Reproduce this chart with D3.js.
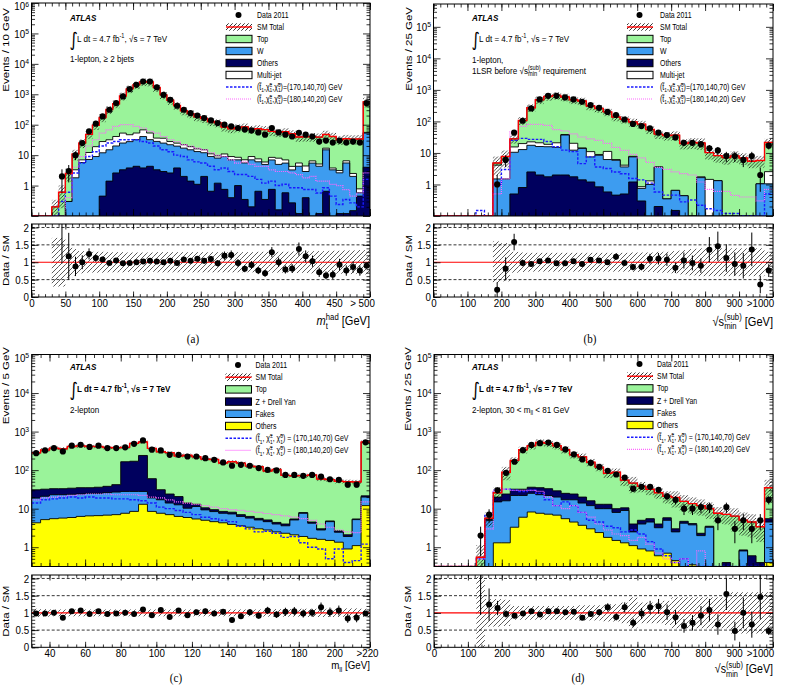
<!DOCTYPE html>
<html>
<head>
<meta charset="utf-8">
<script src="https://cdn.jsdelivr.net/npm/d3@7"></script>
<style>
  body { margin: 0; background: #fff; }
  svg { font-family: "Liberation Sans", Arial, Helvetica, sans-serif; }
</style>
</head>
<body>
<svg id="fig" width="785" height="685"></svg>
<script>
// ---------- (a) 1-lepton, >= 2 bjets : m_t^had, 10 GeV bins from 0 ----------
const aStart = 0, aWidth = 10;
const aOthers = [0,0,0,0,0,0,0,0,0,0, 0.45,1.4,2.6,3.3,3.8,4.3,3.8,4.3,3.3,2.9, 2.6,3.8,2,1.4,1.1,2,0.65,1.2,0.75,0.4,
  1,0.35,0.2,0.65,0.35,0.75,0.16,0.58,0.27,0.12, 0.4,0.08,0.12,0.65,0.08,0.12,0.12,0.15,0.45,4];
const aW = [0,0,0,0,0.05,0.3,1.8,5.7,7.2,9, 11.5,13.6,17.4,21.7,24,28,37,28,25,22, 19.4,16,15,13.6,12,10,8.4,6.8,8.2,6.6,
  6,5.2,6.8,5.4,4.6,6.2,4.8,4.9,3,4.2, 2.5,5.4,4.2,14.3,3.2,2.5,5.4,1.85,0.13,49];
const aMJ = [0,0,0,0,0,0,1.5,1.3,5,10, 16,17,21,28,19,21,27,21,8,11, 6,5,5,4,3,3,2,1.5,2,2,
  1.5,1.5,2,1.5,1,1.5,3,1.5,1,1.2, 1.5,1,0.8,2,0.5,0.5,1,0.5,0.2,3];
const aTop = [0,0,0,0.2,0.55,2.2,7.6,18,36,77, 145,284,449,823,1463,1997,2512,2477,1634,924, 607,405,265,212,166,145,116,106,73,65,
  71,78,62,66,63,52,48,52,46,34, 36,34,34,31,37,29,28,31,33,514];
const aData = [0,0,0,0,2,3,10,25,60,108, 187,310,515,850,1480,2050,2630,2630,1700,960, 660,420,310,240,200,166,138,113,100,89,
  78,69,65,56,47,78,56,47,41,54, 47,41,28,30,26,30,26,28,26,512];
const aRatio = [0,0,0,0,3.3,1.17,0.88,1.0,1.24,1.12, 1.08,0.98,1.05,0.97,0.98,1.0,1.02,1.04,1.02,1.0, 1.04,0.98,1.08,1.04,1.1,1.04,1.09,0.97,1.19,1.21,
  0.98,0.81,0.92,0.76,0.68,1.29,1.0,0.79,0.82,1.38, 1.17,1.03,0.71,0.62,0.64,0.93,0.76,0.86,0.76,0.9];
const aUnc = [0,0,0,0.7,0.7,0.45,0.38,0.32,0.3,0.3, 0.3,0.29,0.29,0.29,0.28,0.28,0.28,0.28,0.29,0.29, 0.29,0.29,0.29,0.29,0.29,0.29,0.29,0.29,0.29,0.29,
  0.29,0.29,0.29,0.3,0.3,0.3,0.3,0.3,0.31,0.31, 0.31,0.32,0.32,0.32,0.33,0.33,0.34,0.34,0.35,0.35];
const aSig1 = [0,0,0,0,0.3,0.6,2.6,5.5,9,13, 20,25,28,32,32,32,28,25,20,15, 13,10,9,7,6,5.5,4.3,3.3,3.8,2.9,
  2.3,2.3,2,1.6,1.2,1.4,1,1.1,0.85,0.85, 0.74,0.74,0.57,0.85,0.45,0.24,0.35,0.27,0.2,1.6];
const aSig2 = [0,0,0,0,0,0.4,4,9,20,32, 53,68,88,100,100,88,78,60,53,41, 32,28,22,20,17,15,12,10,9,7,
  5.5,6,5,4.3,4.3,3.3,2.9,2.9,2.6,2.3, 1.8,2,1.4,1.4,1.1,1,0.74,0.45,0.57,2.6];
const aXTicks = [0,50,100,150,200,250,300,350,400,450,500];
const aXLabels = ['0','50','100','150','200','250','300','350','400','450','> 500'];

// ---------- (b) 1-lepton 1LSR : sqrt(s_min^sub), 25 GeV bins from 0 ----------
const bStart = 0, bWidth = 25;
const bOthers = [0,0,0,0,0,0,0,0,0,0.5, 0.8,2.5,2,1.75,2,2,1.75,1.4,1.2,0.84, 0.58,0.46,0.5,1.2,0.3,0.05,0.2,0.05,0.15,0.04,
  0.02,0.05,0.02,0.02,0.05,0.05,0.02,0.03,0.05,0.05];
const bW = [0,0,0,0,0,0,0,1.5,1.5,10, 12,15,14,14,13,35,10.5,12.5,6.3,7.6, 5.6,5.4,3.1,6.3,0.45,0.95,3.4,0.3,0.5,0.4,
  0.03,1.6,0.03,1.3,0.03,0,0,0.05,1.0,1.0];
const bMJ = [0,0,0,0,0,0,0,2.6,4.5,5, 7,5,5,3,6,1.5,8,0.5,3.5,0.5, 5,0.3,0.5,0.3,0.1,0.3,0,0,0,0,
  0,0.1,1.4,0,0,0,0,0,0,1.5];
const bTop = [0,0,0,0,0,0,0,0.7,1.7,12.5, 87,250,464,600,649,555,465,428,297,248, 189,132,113,88,81,54,36,35,36,19.5,
  21.3,19,8.8,6.9,7,8,6.9,5.4,4.7,19];
const bData = [0,0,0,0,0,0,0,1,6,44, 105,258,500,650,650,575,500,420,330,270, 200,160,115,83,71,60,44,37,31,21,
  21,19,14,12,8,8,6,8,2,17];
const bRatio = [0,0,0,0,0,0,0,0.21,0.81,1.58, 0.98,0.95,1.03,1.05,0.97,0.97,1.03,0.95,1.07,1.05, 1.0,1.16,0.98,0.86,0.87,1.1,1.1,1.07,0.84,1.05,
  0.98,0.9,1.36,1.46,1.12,0.95,0.9,1.37,0.36,0.76];
const bUnc = [0,0,0,0,0,0,0,0.6,0.55,0.3, 0.28,0.27,0.27,0.27,0.27,0.27,0.27,0.27,0.27,0.27, 0.27,0.27,0.27,0.28,0.28,0.28,0.3,0.3,0.32,0.35,
  0.38,0.4,0.4,0.4,0.4,0.4,0.4,0.4,0.4,0.3];
const bSig1 = [0,0,0,0,0,0.15,0,1,3,25, 29,27,27,23,15.7,12.3,11,4.6,7.5,3.6, 3.2,2.5,2.2,1.55,1.4,1.1,0.58,0.46,0.46,0.28,
  0.32,0.22,0.17,0.15,0.12,0.12,0.09,0.08,0.05,0.5];
const bSig2 = [0,0,0,0,0,0,0,0.5,1.5,47, 70,80,80,75,55,50,40,32,28,25, 20,15,12,9,7,5,3.5,3,2.5,2.2,
  2,1.2,0.7,0.6,0.6,0.45,0.4,0.4,0.3,0.7];
const bXTicks = [0,100,200,300,400,500,600,700,800,900,1000];
const bXLabels = ['0','100','200','300','400','500','600','700','800','900','>1000'];

// ---------- (c) 2-lepton : m_ll, 5 GeV bins from 30 ----------
const cStart = 30, cWidth = 5;
const cOthers = [4.3,5.2,5.5,5.7,5.9,6.3,6.5,6.6,6.8,7.0, 7.6,8.5,13,8.5,7.6,7.0,6.3,5.9,5.4,5.0,
  4.6,4.3,3.9,3.6,3.3,3.0,2.8,2.5,2.3,2.1, 1.9,1.7,1.6,1.5,1.35,0.9,1.1,12];
const cFakes = [14.5,15.8,17.5,17.3,17.6,17.7,18.5,18.4,19.2,20, 20.4,19.5,15,10.5,9.4,7,6.3,4.4,6,4.3,
  3.8,3.3,3.4,2.7,2.4,2.1,1.8,1.5,1.3,3.0, 5.7,2.5,1.2,3.1,1.1,1.0,4.1,8];
const cZ = [12,11,10,10,10.5,11,10,11,12,15, 137,142,212,41,14,10,8,3.7,1.6,1.2,
  1.0,0.9,0.8,0.7,0.6,0.5,0.5,0.4,0.4,0.3, 0.3,0.3,0.2,0.2,0.2,0.2,0.2,1.5];
const cTop = [251,300,340,322,376,391,377,374,347,339, 225,325,296,306,270,260,213,229,209,183,
  180,145,157,145,121,117,90,99,69,66, 64,70,56,52,49,48,44,514];
const cData = [276,325,373,305,430,456,400,430,373,373, 390,480,590,340,325,250,250,226,226,204,
  185,158,130,137,130,113,102,98,75,75, 71,75,68,58,56,42,42,525];
const cRatio = [0.98,0.98,1.0,0.86,1.05,1.07,0.97,1.05,0.97,0.98, 1.0,0.97,1.1,0.93,1.08,0.88,1.07,0.93,1.02,1.05,
  0.98,1.03,0.79,0.9,1.02,0.92,1.07,0.95,1.03,1.05, 0.98,1.0,1.16,1.02,1.07,0.84,0.86,0.98];
const cUnc = [0.12,0.11,0.1,0.1,0.1,0.1,0.1,0.1,0.1,0.1, 0.1,0.1,0.1,0.1,0.1,0.1,0.1,0.1,0.1,0.1,
  0.1,0.1,0.1,0.1,0.1,0.1,0.11,0.11,0.11,0.11, 0.12,0.12,0.12,0.12,0.12,0.13,0.13,0.12];
const cSig1 = [14,17,18,19,20,19,20,19,19,18, 18,17,16,14,11,10,9,8,7,6,
  5.5,5,4.6,3.5,3,2.5,2.6,2.3,1.8,1.9, 1.3,1.0,0.9,0.5,0.9,0.4,0.45,1.2];
const cSig2 = [17,19,20,21,22,23,24,24,24,23, 23,23,22,20,19,17,15,14,13,12,
  11,10,9.5,9,8.5,8,7.5,7,6.5,6, 5.5,5,4,3.3,2.8,2.5,2.4,15];
const cXTicks = [40,60,80,100,120,140,160,180,200,220];
const cXLabels = ['40','60','80','100','120','140','160','180','200','>220'];

// ---------- (d) 2-lepton, 30 < m_ll < 81 GeV : sqrt(s_min^sub), 25 GeV bins ----------
const dStart = 0, dWidth = 25;
const dOthers = [0,0,0,0,0,0,0,1.3,1.3,3.3, 6,8.2,7.6,7.2,6.8,5.5,4.5,3.7,3.0,2.4,
  1.8,1.5,1.3,1.1,0.9,0.8,0.6,0.7,0.45,0.3, 0.35,0.25,0.2,0.1,0.1,0.05,0,0,0,0.4];
const dFakes = [0,0,0,0,0,0,5,13.7,14.7,18.7, 16,16.8,15.4,14.8,13.2,11.5,12.5,10.3,9,7.6,
  8.2,6.5,7.7,1.4,3.1,3.7,2.6,4.3,2.05,3.9, 3.45,1.75,3.1,0.1,0.2,0.05,0.8,0.3,0.3,4.1];
const dZ = [0,0,0,0,0,0,0.3,5,8,10, 10,11,12,11,9,8,7,6,4,3,
  3,2,1.5,1.5,1,1,0.8,0.8,0.5,0.5, 0.3,0.3,0.2,0.1,0.1,0.1,0.05,0.3,0.1,1];
const dTop = [0,0,0,0,0,0.55,0.4,6,64,147, 305,393,491,462,400,313,226,201,144,107,
  70,78,44.5,42,33,26.5,22,15.2,16.5,10.8, 9.4,9.7,6.5,7.3,6.7,6.2,4.15,3.9,3.0,29.5];
const dData = [0,0,0,0,0,2,7,30,85,165, 330,450,500,520,450,345,257,190,155,122,
  96,77,64,33,37,37,31,21,17,10, 10,11,11,5,11,3,5,3,5,17];
const dRatio = [0,0,0,0,0,3.2,1.24,1.14,0.97,0.92, 0.98,1.05,0.95,1.05,1.05,1.02,1.03,0.86,0.97,1.02,
  1.16,0.88,1.16,0.71,0.98,1.16,1.19,1.02,0.87,0.62, 0.71,0.92,1.08,0.66,1.55,0.47,1.0,0.66,1.46,0.47];
const dUnc = [0,0,0,0,0,1.05,0.4,0.4,0.38,0.2, 0.2,0.2,0.2,0.2,0.2,0.2,0.2,0.22,0.22,0.22,
  0.25,0.25,0.3,0.45,0.3,0.3,0.3,0.35,0.45,0.45, 0.45,0.45,0.45,0.45,0.45,0.6,0.6,0.6,0.6,0.6];
const dSig1 = [0,0,0,0,0,0.5,7,30,32,30, 28,30,25,17,12,15,12,8,5,4.5,
  3.5,3.2,2.5,2.8,2.2,1.4,0.9,0.6,0.4,0.5, 0.3,0.25,0.2,0.2,0.15,0.1,0.1,0.1,0.1,0.3];
const dSig2 = [0,0,0,0,0,0.5,3,30,32,30, 30,30,28,20,12,10,12,8,6,4,
  2.8,2.2,2,1.5,1.8,1.2,0.7,0.5,0.4,0.5, 0.3,0.8,0.3,0.3,0.3,0.2,0.2,0.1,0.1,0.3];

const ratioTicks = [0, 0.5, 1, 1.5, 2];
const ratioLabels = ['0', '0.5', '1', '1.5', '2'];
const sigMasses = ['(170,140,70)', '(180,140,20)'];

// ---------- drawing ----------
const SX = 0.85;
const TICK_FS = 11.5;
const C = { top: '#9af39a', w: '#3d9cf0', navy: '#00005e', yellow: '#ffff00', white: '#ffffff',
  sig1: '#1a1aff', sig2: '#ff66ff', red: '#ff0000' };

const svg = d3.select('#fig');
svg.append('rect').attr('width', 785).attr('height', 685).attr('fill', '#fff');
const defs = svg.append('defs');

function hatch(id, s, w, col) {
  defs.append('pattern').attr('id', id).attr('patternUnits', 'userSpaceOnUse')
    .attr('width', s).attr('height', s)
    .append('path')
    .attr('d', `M0,${s}L${s},0M${-s / 2},${s / 2}L${s / 2},${-s / 2}M${s / 2},${s * 1.5}L${s * 1.5},${s / 2}`)
    .attr('stroke', col).attr('stroke-width', w);
}
hatch('hatchMain', 3.5, 0.7, '#000');
hatch('hatchRatio', 5, 0.8, '#333');
hatch('hatchLeg', 4, 0.8, '#000');

const sub = (t, dx) => ({ t, s: 0.7, off: 0.3, dx });
const sup = (t, dx) => ({ t, s: 0.7, off: -0.42, dx });

// text made of tspans, slightly condensed like the original
function rich(g, x, y, size, parts, opt = {}) {
  const tr = opt.rot ? ` rotate(-90) scale(1,${SX})` : ` scale(${SX},1)`;
  const t = g.append('text')
    .attr('transform', `translate(${x},${y})${tr}`)
    .attr('font-size', size)
    .attr('text-anchor', opt.anchor || 'start');
  if (opt.weight) t.attr('font-weight', opt.weight);
  if (opt.style) t.attr('font-style', opt.style);
  if (opt.family) t.attr('font-family', opt.family);
  let cur = 0;
  parts.forEach(p => {
    if (typeof p === 'string') p = { t: p };
    const off = (p.off || 0) * size;
    const ts = t.append('tspan').attr('dy', off - cur).text(p.t);
    if (p.s) ts.attr('font-size', size * p.s);
    if (p.it) ts.attr('font-style', 'italic');
    if (p.dx) ts.attr('dx', p.dx * size);
    cur = off;
  });
  return t;
}

function sigLabel(m, spaced) {
  const c = spaced ? ', ' : ',';
  return ['(', 't\u0303', sub('1'), c, '\u03c7\u0303', sub('1'), sup('\u00b1', -0.39), c,
    '\u03c7\u0303', sub('1'), sup('0', -0.39), spaced ? ') = ' + m + ' GeV' : ')=' + m + ' GeV'];
}
const sqrtS = ['\u221as', sub('min'), sup('(sub)', -1.13)];

function tickAxis(g, scale, orient, pos, vals, size, labels) {
  const mk = { bottom: d3.axisBottom, top: d3.axisTop, left: d3.axisLeft, right: d3.axisRight }[orient];
  const ax = mk(scale).tickValues(vals).tickSize(-size).tickPadding(orient === 'left' ? 3 : 2)
    .tickFormat(labels ? (d, i) => labels[i] : '');
  const horiz = orient === 'bottom' || orient === 'top';
  const a = g.append('g').attr('transform', horiz ? `translate(0,${pos})` : `translate(${pos},0)`).call(ax);
  a.select('.domain').remove();
  a.attr('font-family', null).attr('font-size', TICK_FS);
  a.selectAll('line').attr('stroke-width', 0.8);
  a.selectAll('text').attr('transform', `scale(${SX},1)`);
  return a;
}

function drawPanel(p) {
  const g = svg.append('g');
  const B = p.box;
  const n = p.data.length;
  const x = d3.scaleLinear().domain(p.xDomain).range([B.l, B.r]);
  const y = d3.scaleLog().domain(p.yDomain).range([B.b, B.t]).clamp(true);
  const yr = d3.scaleLinear().domain([0, 2.1]).range([B.rb, B.rt]);
  const Y = v => y(v > 0 ? v : p.yDomain[0] / 10);
  const lo = i => x(p.start + i * p.width);
  const hi = i => x(p.start + (i + 1) * p.width);
  const mid = i => x(p.start + (i + 0.5) * p.width);

  defs.append('clipPath').attr('id', 'cm' + p.id).append('rect')
    .attr('x', B.l).attr('y', B.t).attr('width', B.r - B.l).attr('height', B.b - B.t);
  defs.append('clipPath').attr('id', 'cr' + p.id).append('rect')
    .attr('x', B.l).attr('y', B.rt).attr('width', B.r - B.l).attr('height', B.rb - B.rt);

  // cumulative stack
  let run = new Array(n).fill(0);
  const layers = p.stack.map(s => {
    run = run.map((c, i) => c + s.values[i]);
    return { color: s.color, cum: run.slice() };
  });
  const total = run;

  const step = (vals, closed) => {
    let d = '';
    vals.forEach((v, i) => { d += (i ? 'L' : 'M') + lo(i) + ',' + Y(v) + 'L' + hi(i) + ',' + Y(v); });
    if (closed) d += `L${hi(n - 1)},${B.b + 2}L${lo(0)},${B.b + 2}Z`;
    return d;
  };

  const main = g.append('g').attr('clip-path', `url(#cm${p.id})`);
  layers.slice().reverse().forEach(L => {
    main.append('path').attr('d', step(L.cum, true))
      .attr('fill', L.color).attr('stroke', '#000').attr('stroke-width', 0.9);
  });

  const filled = total.map((t, i) => ({ t, i })).filter(d => d.t > 0);
  main.append('g').selectAll('rect').data(filled).join('rect')
    .attr('x', d => lo(d.i)).attr('width', d => hi(d.i) - lo(d.i))
    .attr('y', d => Y(d.t * (1 + p.unc[d.i])))
    .attr('height', d => Y(d.t * (1 - p.unc[d.i])) - Y(d.t * (1 + p.unc[d.i])))
    .attr('fill', 'url(#hatchMain)');

  p.signals.forEach(s => {
    main.append('path').attr('d', step(s.values)).attr('fill', 'none')
      .attr('stroke', s.color).attr('stroke-width', s.w).attr('stroke-dasharray', s.dash);
  });

  main.append('path').attr('d', step(total)).attr('fill', 'none')
    .attr('stroke', C.red).attr('stroke-width', 1.4);

  const pts = p.data.map((v, i) => ({ v, i, r: p.ratio[i] })).filter(d => d.v > 0);
  main.append('g').selectAll('line').data(pts).join('line')
    .attr('x1', d => mid(d.i)).attr('x2', d => mid(d.i))
    .attr('y1', d => Y(d.v + Math.sqrt(d.v))).attr('y2', d => Y(d.v - Math.sqrt(d.v)))
    .attr('stroke', '#000').attr('stroke-width', 1);
  main.append('g').selectAll('circle').data(pts).join('circle')
    .attr('cx', d => mid(d.i)).attr('cy', d => Y(d.v)).attr('r', 3.1);

  // ratio pad
  const rat = g.append('g').attr('clip-path', `url(#cr${p.id})`);
  rat.append('g').selectAll('rect').data(filled).join('rect')
    .attr('x', d => lo(d.i)).attr('width', d => hi(d.i) - lo(d.i))
    .attr('y', d => yr(1 + p.unc[d.i]))
    .attr('height', d => yr(Math.max(0, 1 - p.unc[d.i])) - yr(1 + p.unc[d.i]))
    .attr('fill', 'url(#hatchRatio)');
  [0.5, 1.5, 2].forEach(v => rat.append('line')
    .attr('x1', B.l).attr('x2', B.r).attr('y1', yr(v)).attr('y2', yr(v))
    .attr('stroke', '#000').attr('stroke-width', 0.8).attr('stroke-dasharray', '3,2'));
  rat.append('line').attr('x1', B.l).attr('x2', B.r).attr('y1', yr(1)).attr('y2', yr(1))
    .attr('stroke', C.red).attr('stroke-width', 1.1);
  rat.append('g').selectAll('line').data(pts).join('line')
    .attr('x1', d => mid(d.i)).attr('x2', d => mid(d.i))
    .attr('y1', d => yr(d.r * (1 + 1 / Math.sqrt(d.v)))).attr('y2', d => yr(d.r * (1 - 1 / Math.sqrt(d.v))))
    .attr('stroke', '#000').attr('stroke-width', 1);
  rat.append('g').selectAll('circle').data(pts).join('circle')
    .attr('cx', d => mid(d.i)).attr('cy', d => yr(d.r)).attr('r', 3);

  // frames
  g.append('rect').attr('x', B.l).attr('y', B.t).attr('width', B.r - B.l).attr('height', B.b - B.t)
    .attr('fill', 'none').attr('stroke', '#000').attr('stroke-width', 1);
  g.append('rect').attr('x', B.l).attr('y', B.rt).attr('width', B.r - B.l).attr('height', B.rb - B.rt)
    .attr('fill', 'none').attr('stroke', '#000').attr('stroke-width', 1);

  // ticks
  const xMin = d3.range(p.xDomain[0], p.xDomain[1] + 1e-6, p.xMinor);
  ['top', 'bottom'].forEach(o => {
    tickAxis(g, x, o, o === 'top' ? B.t : B.b, p.xTicks, 7);
    tickAxis(g, x, o, o === 'top' ? B.t : B.b, xMin, 3.5);
    tickAxis(g, x, o, o === 'top' ? B.rt : B.rb, xMin, 2.8);
  });
  tickAxis(g, x, 'top', B.rt, p.xTicks, 5.5);
  const xl = tickAxis(g, x, 'bottom', B.rb, p.xTicks, 5.5, p.xLabels);
  // nudge the last labels as in the original (overflow label sits against the frame)
  xl.selectAll('text').each(function (d, i) {
    const dx = p.labelDx[i];
    if (dx) d3.select(this).attr('x', dx / SX);
  });

  const e0 = Math.floor(Math.log10(p.yDomain[0])), e1 = Math.ceil(Math.log10(p.yDomain[1]));
  const yMaj = d3.range(e0, e1 + 1).map(e => Math.pow(10, e))
    .filter(v => v >= p.yDomain[0] * 0.999 && v <= p.yDomain[1] * 1.001);
  const yMin = [];
  d3.range(e0, e1 + 1).forEach(e => d3.range(2, 10).forEach(m => {
    const v = m * Math.pow(10, e);
    if (v > p.yDomain[0] && v < p.yDomain[1]) yMin.push(v);
  }));
  const ylab = yMaj.filter(v => v >= 1);
  tickAxis(g, y, 'left', B.l, yMaj.filter(v => v < 1), 7);
  const yl = tickAxis(g, y, 'left', B.l, ylab, 7, ylab.map(String));
  yl.selectAll('text').each(function (d) {
    const t = d3.select(this).text('');
    const e = Math.round(Math.log10(d));
    if (y(d) - B.t < 2) t.attr('y', 3);   // keep the top label inside the page
    if (e === 0) t.text('1');
    else if (e === 1) t.text('10');
    else {
      t.append('tspan').text('10');
      t.append('tspan').attr('dy', '-0.45em').attr('font-size', '70%').text(e);
    }
  });
  tickAxis(g, y, 'left', B.l, yMin, 3.5);
  tickAxis(g, y, 'right', B.r, yMaj, 7);
  tickAxis(g, y, 'right', B.r, yMin, 3.5);

  const rMin = d3.range(0, 2.1, 0.1);
  tickAxis(g, yr, 'left', B.l, ratioTicks, 7, ratioLabels);
  tickAxis(g, yr, 'left', B.l, rMin, 3.5);
  tickAxis(g, yr, 'right', B.r, ratioTicks, 7);
  tickAxis(g, yr, 'right', B.r, rMin, 3.5);

  // titles
  rich(g, p.yTitle.x, p.yTitle.end, 11.5, [p.yTitle.text], { rot: true, anchor: 'end' });
  rich(g, p.yTitle.x, (B.rt + B.rb) / 2, 11.5, ['Data / SM'], { rot: true, anchor: 'middle' });
  rich(g, B.r, p.xTitle.y, p.xTitle.size, p.xTitle.parts, { anchor: 'end' });
  rich(g, p.caption.x, p.caption.y, 13, [p.caption.text],
    { anchor: 'middle', family: '"Liberation Serif", "DejaVu Serif", serif' });

  // annotations
  const A = p.notes;
  rich(g, A.x, A.y[0], 9.5, ['ATLAS'], { weight: 'bold', style: 'italic' });
  rich(g, A.x - 0.5, A.y[1] + 4, 19, ['\u222b'], { family: '"DejaVu Sans", sans-serif' });
  rich(g, A.x + 7, A.y[1], 9.5, ['L dt = 4.7 fb', sup('-1'), ', \u221as = 7 TeV'], { weight: A.bold ? 'bold' : null });
  A.lines.forEach((parts, k) => rich(g, A.x, A.y[2] + k * 10.5, 9.5, parts));

  // legend
  const L = p.legend;
  L.entries.forEach((e, k) => {
    const cy = L.y + k * L.dy;
    if (e.kind === 'data') {
      g.append('circle').attr('cx', L.x + 12.5).attr('cy', cy).attr('r', 3);
    } else if (e.kind === 'sm') {
      g.append('rect').attr('x', L.x).attr('y', cy - 3.7).attr('width', 26).attr('height', 7.4)
        .attr('fill', 'url(#hatchLeg)');
      g.append('line').attr('x1', L.x).attr('x2', L.x + 26).attr('y1', cy).attr('y2', cy)
        .attr('stroke', C.red).attr('stroke-width', 1.4);
    } else if (e.kind === 'box') {
      g.append('rect').attr('x', L.x).attr('y', cy - 3.7).attr('width', 26).attr('height', 7.4)
        .attr('fill', e.color).attr('stroke', '#000').attr('stroke-width', 1);
    } else {
      g.append('line').attr('x1', L.x).attr('x2', L.x + 26).attr('y1', cy).attr('y2', cy)
        .attr('stroke', e.color).attr('stroke-width', e.w).attr('stroke-dasharray', e.dash);
    }
    rich(g, L.tx, cy + 3, 8.2, e.label);
  });
}

const sig1 = v => ({ values: v, color: C.sig1, w: 1.4, dash: '2.5,1.5' });
const sig2 = v => ({ values: v, color: C.sig2, w: 1.2, dash: '1,1' });

const oneLepLegend = (x, tx, y) => ({ x, tx, y, dy: 12, entries: [
  { kind: 'data', label: ['Data 2011'] },
  { kind: 'sm', label: ['SM Total'] },
  { kind: 'box', color: C.top, label: ['Top'] },
  { kind: 'box', color: C.w, label: ['W'] },
  { kind: 'box', color: C.navy, label: ['Others'] },
  { kind: 'box', color: C.white, label: ['Multi-jet'] },
  { kind: 'line', color: C.sig1, w: 1.4, dash: '2.5,1.5', label: sigLabel(sigMasses[0], false) },
  { kind: 'line', color: C.sig2, w: 1.2, dash: '1,1', label: sigLabel(sigMasses[1], false) }
] });
const twoLepLegend = (x, tx, y) => ({ x, tx, y, dy: 12.2, entries: [
  { kind: 'data', label: ['Data 2011'] },
  { kind: 'sm', label: ['SM Total'] },
  { kind: 'box', color: C.top, label: ['Top'] },
  { kind: 'box', color: C.navy, label: ['Z + Drell Yan'] },
  { kind: 'box', color: C.w, label: ['Fakes'] },
  { kind: 'box', color: C.yellow, label: ['Others'] },
  { kind: 'line', color: C.sig1, w: 1.4, dash: '2.5,1.5', label: sigLabel(sigMasses[0], true) },
  { kind: 'line', color: C.sig2, w: 1.2, dash: '1,1', label: sigLabel(sigMasses[1], true) }
] });

drawPanel({
  id: 'a', box: { l: 31.5, r: 370, t: 3, b: 216, rt: 224, rb: 297 },
  xDomain: [0, 500], yDomain: [0.1, 1e6], start: aStart, width: aWidth,
  stack: [{ values: aOthers, color: C.navy }, { values: aW, color: C.w },
    { values: aMJ, color: C.white }, { values: aTop, color: C.top }],
  signals: [sig1(aSig1), sig2(aSig2)], data: aData, ratio: aRatio, unc: aUnc,
  xTicks: aXTicks, xLabels: aXLabels, xMinor: 10, labelDx: { 9: -2, 10: -8 },
  xTitle: { y: 325, size: 13, parts: [{ t: 'm', it: true }, sub('t'), sup('had', -0.19), ' [GeV]'] },
  yTitle: { x: 9, end: 8, text: 'Events / 10 GeV' },
  caption: { x: 193, y: 343, text: '(a)' },
  notes: { x: 70, y: [20.7, 41.5, 61.5], lines: [['1-lepton, \u2265 2 bjets']] },
  legend: oneLepLegend(226, 257, 15)
});

drawPanel({
  id: 'b', box: { l: 433.5, r: 773, t: 4, b: 216, rt: 224, rb: 297 },
  xDomain: [0, 1000], yDomain: [0.1, 5.3e5], start: bStart, width: bWidth,
  stack: [{ values: bOthers, color: C.navy }, { values: bW, color: C.w },
    { values: bMJ, color: C.white }, { values: bTop, color: C.top }],
  signals: [sig1(bSig1), sig2(bSig2)], data: bData, ratio: bRatio, unc: bUnc,
  xTicks: bXTicks, xLabels: bXLabels, xMinor: 20, labelDx: { 8: -2, 9: -5, 10: -13 },
  xTitle: { y: 325.5, size: 13, parts: [...sqrtS, ' [GeV]'] },
  yTitle: { x: 412, end: 7, text: 'Events / 25 GeV' },
  caption: { x: 590, y: 343, text: '(b)' },
  notes: { x: 472, y: [20.7, 41.5, 63], lines: [['1-lepton,'], ['1LSR before ', ...sqrtS, ' requirement']] },
  legend: oneLepLegend(627, 660, 15)
});

drawPanel({
  id: 'c', box: { l: 31.7, r: 370, t: 354.5, b: 566.5, rt: 575, rb: 647.3 },
  xDomain: [30, 220], yDomain: [0.316, 1e5], start: cStart, width: cWidth,
  stack: [{ values: cOthers, color: C.yellow }, { values: cFakes, color: C.w },
    { values: cZ, color: C.navy }, { values: cTop, color: C.top }],
  signals: [sig1(cSig1), sig2(cSig2)], data: cData, ratio: cRatio, unc: cUnc,
  xTicks: cXTicks, xLabels: cXLabels, xMinor: 5, labelDx: { 9: -3 },
  xTitle: { y: 669, size: 11.5, parts: ['m', sub('ll'), ' [GeV]'] },
  yTitle: { x: 9, end: 347, text: 'Events / 5 GeV' },
  caption: { x: 176, y: 682, text: '(c)' },
  notes: { x: 70, y: [370, 392, 412.5], bold: true, lines: [['2-lepton']] },
  legend: twoLepLegend(225.5, 255.5, 365)
});

drawPanel({
  id: 'd', box: { l: 434, r: 773, t: 354.5, b: 566.5, rt: 575, rb: 647.3 },
  xDomain: [0, 1000], yDomain: [0.316, 1e5], start: dStart, width: dWidth,
  stack: [{ values: dOthers, color: C.yellow }, { values: dFakes, color: C.w },
    { values: dZ, color: C.navy }, { values: dTop, color: C.top }],
  signals: [sig1(dSig1), sig2(dSig2)], data: dData, ratio: dRatio, unc: dUnc,
  xTicks: bXTicks, xLabels: bXLabels, xMinor: 20, labelDx: { 8: -2, 9: -5, 10: -13 },
  xTitle: { y: 673, size: 12.5, parts: [...sqrtS, ' [GeV]'] },
  yTitle: { x: 411, end: 347, text: 'Events / 25 GeV' },
  caption: { x: 578, y: 682, text: '(d)' },
  notes: { x: 472, y: [370, 392, 412.5], bold: true, lines: [['2-lepton, 30 < m', sub('ll'), ' < 81 GeV']] },
  legend: twoLepLegend(627, 657, 364)
});
</script>
</body>
</html>
